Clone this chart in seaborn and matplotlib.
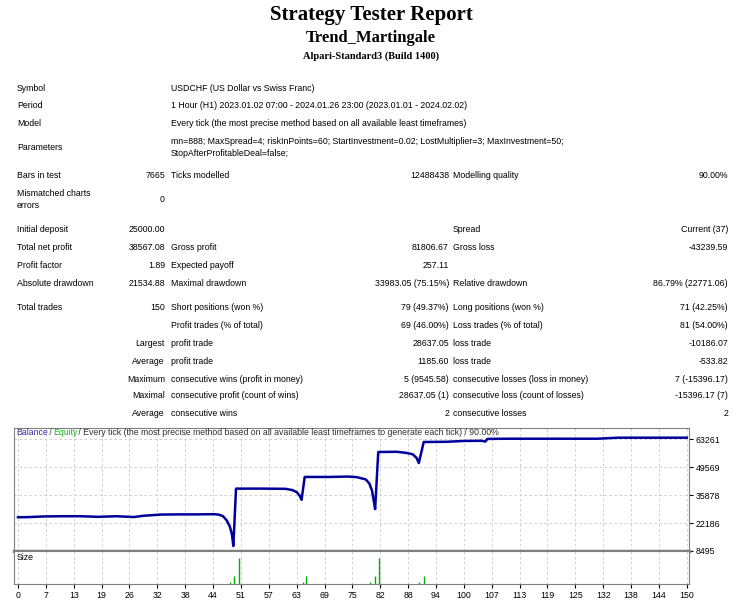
import matplotlib
matplotlib.use("Agg")
import matplotlib.pyplot as plt
import seaborn as sns
import pandas as pd

# ---- data ----
trade_idx = [0, 2, 6, 10, 14, 18, 22, 26, 28, 32, 36, 40, 44, 45, 46, 46.8, 47.5, 48.0, 48.3, 48.9, 55, 60, 61.5, 62.5, 63.2, 63.6, 64.3, 70, 74, 76, 78, 78.8, 79.4, 79.8, 80.1, 80.8, 85, 87, 88.5, 89.4, 89.9, 91, 96, 100, 104, 104.8, 105.3, 110, 120, 130, 134.5, 140, 145, 150]
balance = [25000, 25050, 25400, 25500, 25500, 25200, 25500, 25100, 25700, 26300, 26400, 26400, 26500, 26300, 25500, 23500, 20500, 16500, 10900, 39000, 39000, 38900, 38300, 37300, 35500, 33500, 44700, 44700, 44900, 44600, 43500, 41500, 38000, 33000, 29000, 56900, 57000, 56500, 55800, 54000, 51500, 61800, 61900, 62300, 62400, 62000, 63300, 63400, 63400, 63400, 63900, 63900, 63900, 63900]
size_idx = [47.5, 48.4, 49.5, 63.9, 64.6, 79.0, 80.0, 81.0, 90.0, 91.0]
size_val = [0.08, 0.30, 1.00, 0.06, 0.30, 0.06, 0.30, 1.00, 0.06, 0.30]
y_ticks = [8495, 22186, 35878, 49569, 63261]
x_tick_labels = ["0", "7", "13", "19", "26", "32", "38", "44", "51", "57", "63", "69", "75", "82", "88", "94", "100", "107", "113", "119", "125", "132", "138", "144", "150"]

rows = [
    (176, "Bars in test", "7665", "Ticks modelled", "12488438", "Modelling quality", "90.00%"),
    (230, "Initial deposit", "25000.00", "", "", "Spread", "Current (37)"),
    (248, "Total net profit", "38567.08", "Gross profit", "81806.67", "Gross loss", "-43239.59"),
    (266, "Profit factor", "1.89", "Expected payoff", "257.11", "", ""),
    (283, "Absolute drawdown", "21534.88", "Maximal drawdown", "33983.05 (75.15%)", "Relative drawdown", "86.79% (22771.06)"),
    (308, "Total trades", "150", "Short positions (won %)", "79 (49.37%)", "Long positions (won %)", "71 (42.25%)"),
    (326, "", "", "Profit trades (% of total)", "69 (46.00%)", "Loss trades (% of total)", "81 (54.00%)"),
    (343, "", "Largest", "profit trade", "28637.05", "loss trade", "-10186.07"),
    (361, "", "Average", "profit trade", "1185.60", "loss trade", "-533.82"),
    (379, "", "Maximum", "consecutive wins (profit in money)", "5 (9545.58)", "consecutive losses (loss in money)", "7 (-15396.17)"),
    (396, "", "Maximal", "consecutive profit (count of wins)", "28637.05 (1)", "consecutive loss (count of losses)", "-15396.17 (7)"),
    (414, "", "Average", "consecutive wins", "2", "consecutive losses", "2"),
]

W, H = 742, 600
fig = plt.figure(figsize=(W / 100, H / 100), dpi=100)
fig.patch.set_facecolor("white")
FONT = "Liberation Sans"
FS = 6.3

def T(x, y, s, ha="left", **kw):
    kw.setdefault("fontsize", FS)
    kw.setdefault("family", FONT)
    fig.text(x / W, 1 - y / H, s, ha=ha, va="center", **kw)

T(371, 15, "Strategy Tester Report", ha="center", fontsize=15, family="Liberation Serif", weight="bold")
T(371, 38, "Trend_Martingale", ha="center", fontsize=12, family="Liberation Serif", weight="bold")
T(371, 56, "Alpari-Standard3 (Build 1400)", ha="center", fontsize=7.5, family="Liberation Serif", weight="bold")

T(17, 88, "Symbol"); T(171, 88, "USDCHF (US Dollar vs Swiss Franc)")
T(17, 106, "Period"); T(171, 106, "1 Hour (H1) 2023.01.02 07:00 - 2024.01.26 23:00 (2023.01.01 - 2024.02.02)")
T(17, 124, "Model"); T(171, 124, "Every tick (the most precise method based on all available least timeframes)")
T(17, 147, "Parameters")
T(171, 141, "mn=888; MaxSpread=4; riskInPoints=60; StartInvestment=0.02; LostMultiplier=3; MaxInvestment=50;")
T(171, 153, "StopAfterProfitableDeal=false;")
T(17, 193, "Mismatched charts"); T(17, 206, "errors"); T(165, 199, "0", ha="right")

for y, l1, v1, l2, v2, l3, v3 in rows:
    T(17, y, l1); T(165, y, v1, ha="right")
    T(171, y, l2); T(449, y, v2, ha="right")
    T(453, y, l3); T(728, y, v3, ha="right")

# ---- chart ----
ax = fig.add_axes([14 / W, 1 - 551 / H, 675 / W, 123 / H])
axb = fig.add_axes([14 / W, 1 - 584 / H, 675 / W, 33 / H], sharex=ax)

tick_pos = [i * 150 / (len(x_tick_labels) - 1) for i in range(len(x_tick_labels))]

df = pd.DataFrame({"trade": trade_idx, "balance": balance})
sns.lineplot(data=df, x="trade", y="balance", ax=ax, color="#00009c", linewidth=1.8)
ax.set_xlim(-0.9, 150.5)
ax.set_ylim(8495, 68640)
ax.set_yticks(y_ticks)
ax.yaxis.tick_right()
ax.set_yticklabels([str(v) for v in y_ticks], fontsize=FS, family=FONT)
ax.tick_params(axis="y", length=3, pad=2)
ax.tick_params(axis="x", length=0, labelbottom=False)
ax.set_xticks(tick_pos)
ax.grid(True, color="#c8c8c8", linestyle=(0, (3, 3)), linewidth=0.6)
ax.set_xlabel(""); ax.set_ylabel("")
for s in ax.spines.values():
    s.set_color("#808080"); s.set_linewidth(0.8)
ax.spines["bottom"].set_linewidth(2.5)
ax.text(0.004, 1.0, "Balance", transform=ax.transAxes, color="#3030a0", fontsize=FS, family=FONT, va="top")
ax.text(0.049, 1.0, " / ", transform=ax.transAxes, color="#404040", fontsize=FS, family=FONT, va="top")
ax.text(0.058, 1.0, "Equity", transform=ax.transAxes, color="#20b020", fontsize=FS, family=FONT, va="top")
ax.text(0.092, 1.0, " / Every tick (the most precise method based on all available least timeframes to generate each tick) / 90.00%",
        transform=ax.transAxes, color="#303030", fontsize=FS, family=FONT, va="top")

dfs = pd.DataFrame({"trade": size_idx, "size": size_val})
axb.vlines(dfs["trade"], 0, dfs["size"], color="#00b000", linewidth=1.0)
axb.set_ylim(0, 1.25)
axb.set_yticks([])
axb.set_xticks(tick_pos)
axb.set_xticklabels(x_tick_labels, fontsize=FS, family=FONT)
axb.tick_params(axis="x", length=3, pad=2)
axb.grid(True, axis="x", color="#c8c8c8", linestyle=(0, (3, 3)), linewidth=0.6)
axb.text(0.004, 0.93, "Size", transform=axb.transAxes, fontsize=FS, family=FONT, va="top")
for s in axb.spines.values():
    s.set_color("#808080"); s.set_linewidth(0.8)

fig.savefig("out.png", dpi=100, facecolor="white")
